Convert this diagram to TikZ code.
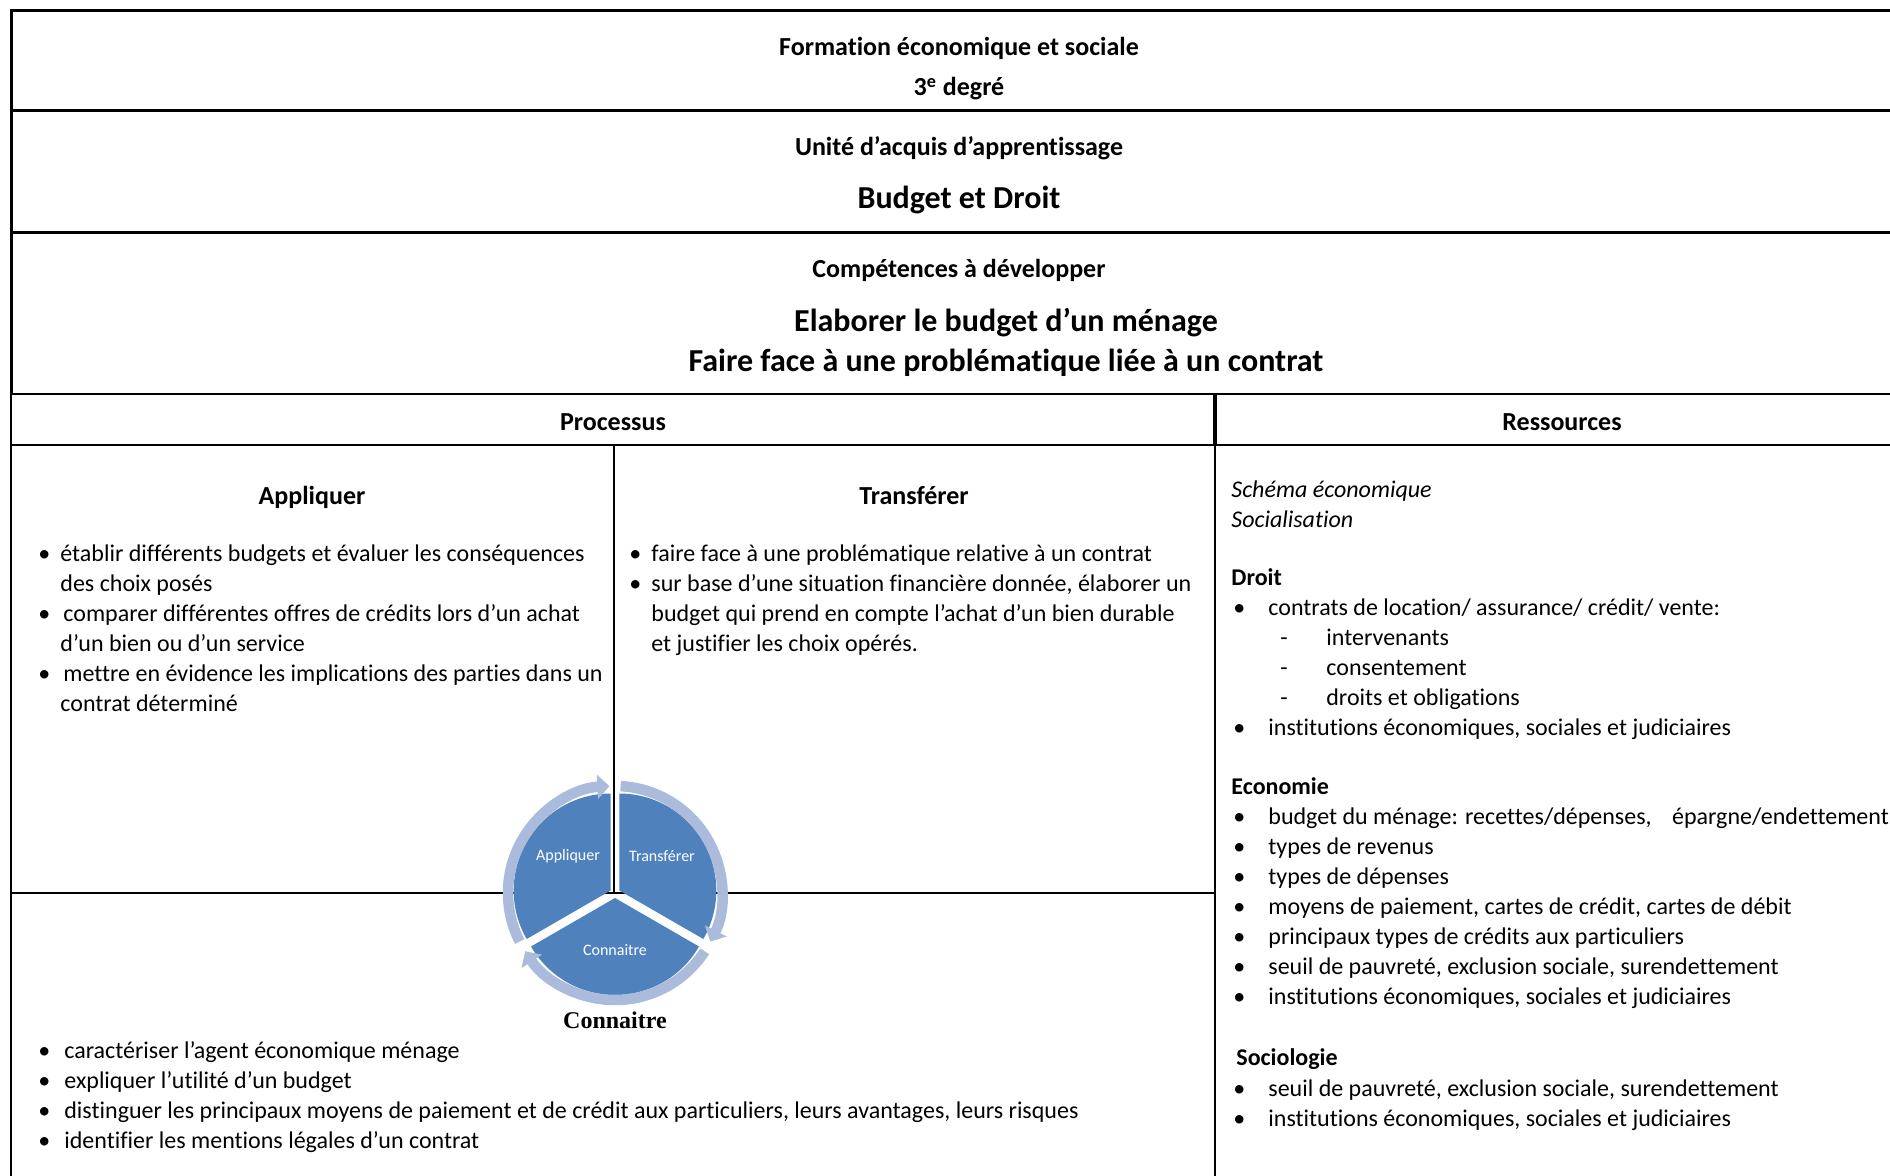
\documentclass[tikz,border=0pt]{standalone}
\usepackage{fontspec}
\setmainfont{Carlito}[Ligatures=CommonOff]
\newfontfamily\timesbf{Liberation Serif}[BoldFont=*,UprightFont=* Bold]
\usetikzlibrary{arrows.meta}

\definecolor{pieblue}{HTML}{4F81BD}
\definecolor{ringblue}{HTML}{AABBDB}

\newcommand{\bul}[1]{\makebox[#1][l]{•}}
\newcommand{\dsh}{\hspace{23.5pt}\makebox[23pt][l]{-}}
\newcommand{\lines}[1]{\begin{tabular}[t]{@{}l@{}}#1\end{tabular}}

\begin{document}
\begin{tikzpicture}[x=0.5pt,y=-0.5pt,
    head/.style={font=\fontsize{13}{16}\selectfont\bfseries, inner sep=0pt, anchor=base},
    big/.style={font=\fontsize{16}{19}\selectfont\bfseries, inner sep=0pt, anchor=base},
    body/.style={font=\fontsize{12}{15}\selectfont, inner sep=0pt, anchor=base west},
    thickrule/.style={line width=1.5pt},
    thinrule/.style={line width=1.1pt},
    sect/.style={fill=pieblue},
    ring/.style={draw=ringblue, line width=5.25pt, -{Triangle[width=12pt,length=6pt]}},
    pielabel/.style={text=white, font=\fontsize{8}{10}\selectfont, inner sep=0pt}]

    \useasboundingbox (0,0) rectangle (1890,1176);

    % table rules
    \draw[thickrule] (1890,11) -- (11,11) -- (11,394);
    \draw[thickrule] (11,111) -- (1890,111);
    \draw[thickrule] (11,233) -- (1890,233);
    \draw[thinrule] (11,394) -- (1890,394);
    \draw[thinrule] (11,445) -- (1890,445);
    \draw[thinrule] (11,394) -- (11,1176);
    \draw[line width=1.8pt] (1215,394) -- (1215,445);
    \draw[thinrule] (1215,445) -- (1215,1176);
    \draw[thinrule] (614,445) -- (614,893);
    \draw[thinrule] (11,893) -- (1215,893);

    % headings
    \node[head] (fes) at (959,56) {Formation économique et sociale};
    \node[head] (deg) at (959,96) {3\textsuperscript{e} degré};
    \node[head] (uaa) at (959,156) {Unité d’acquis d’apprentissage};
    \node[big] (bud) at (959,209) {Budget et Droit};
    \node[head] (comp) at (959,278) {Compétences à développer};
    \node[big] (elab) at (1006,332) {Elaborer le budget d’un ménage};
    \node[big] (face) at (1006,372) {Faire face à une problématique liée à un contrat};
    \node[head] (proc) at (613,431) {Processus};
    \node[head] (res) at (1562,431) {Ressources};

    % Appliquer / Transferer
    \node[head] (app) at (312,504) {Appliquer};
    \node[body] (applist) at (38,561) {\lines{%
        \bul{11pt}établir différents budgets et évaluer les conséquences\\
        \hspace{11pt}des choix posés\\
        \bul{12.5pt}comparer différentes offres de crédits lors d’un achat\\
        \hspace{11pt}d’un bien ou d’un service\\
        \bul{12.5pt}mettre en évidence les implications des parties dans un\\
        \hspace{11pt}contrat déterminé}};
    \node[head] (tra) at (914,504) {Transférer};
    \node[body] (tralist) at (629,561) {\lines{%
        \bul{11pt}faire face à une problématique relative à un contrat\\
        \bul{11pt}sur base d’une situation financière donnée, élaborer un\\
        \hspace{11pt}budget qui prend en compte l’achat d’un bien durable\\
        \hspace{11pt}et justifier les choix opérés.}};

    % Connaitre
    \node[body] (conlist) at (38,1058) {\lines{%
        \bul{13pt}caractériser l’agent économique ménage\\
        \bul{13pt}expliquer l’utilité d’un budget\\
        \bul{13pt}distinguer les principaux moyens de paiement et de crédit aux particuliers, leurs avantages, leurs risques\\
        \bul{13pt}identifier les mentions légales d’un contrat}};

    % Ressources
    \node[body] (schema) at (1231,497) {\lines{\itshape Schéma économique\\ \itshape Socialisation}};
    \node[body, font=\fontsize{12}{15}\selectfont\bfseries] (droit) at (1231,585) {Droit};
    \node[body] (droitlist) at (1233,615) {\lines{%
        \bul{17.5pt}contrats de location/ assurance/ crédit/ vente:\\
        \dsh intervenants\\
        \dsh consentement\\
        \dsh droits et obligations\\
        \bul{17.5pt}institutions économiques, sociales et judiciaires}};
    \node[body, font=\fontsize{12}{15}\selectfont\bfseries] (eco) at (1231,794) {Economie};
    \node[body] (ecolist) at (1233,824) {\lines{%
        \bul{17.5pt}budget du ménage: recettes/dépenses,\hspace{7.5pt} épargne/endettement\\
        \bul{17.5pt}types de revenus\\
        \bul{17.5pt}types de dépenses\\
        \bul{17.5pt}moyens de paiement, cartes de crédit, cartes de débit\\
        \bul{17.5pt}principaux types de crédits aux particuliers\\
        \bul{17.5pt}seuil de pauvreté, exclusion sociale, surendettement\\
        \bul{17.5pt}institutions économiques, sociales et judiciaires}};
    \node[body, font=\fontsize{12}{15}\selectfont\bfseries] (soc) at (1236,1065) {Sociologie};
    \node[body] (soclist) at (1233,1096) {\lines{%
        \bul{17.5pt}seuil de pauvreté, exclusion sociale, surendettement\\
        \bul{17.5pt}institutions économiques, sociales et judiciaires}};

    % cycle
    \begin{scope}[shift={(615,893)}]
        \fill[sect] (150:2.5pt) -- +(90:48.5pt) arc[start angle=90, end angle=210, radius=48.5pt] -- cycle;
        \fill[sect] (30:2.5pt) -- +(90:48.5pt) arc[start angle=90, end angle=-30, radius=48.5pt] -- cycle;
        \fill[sect] (270:2.5pt) -- +(-30:48.5pt) arc[start angle=-30, end angle=-150, radius=48.5pt] -- cycle;
        \draw[ring] (207:53.5pt) arc[start angle=207, end angle=93, radius=53.5pt];
        \draw[ring] (87:53.5pt) arc[start angle=87, end angle=-27, radius=53.5pt];
        \draw[ring] (-33:53.5pt) arc[start angle=-33, end angle=-147, radius=53.5pt];
        \node[pielabel] (papp) at (-47,-37) {Appliquer};
        \node[pielabel] (ptra) at (47,-37) {Transférer};
        \node[pielabel] (pcon) at (0,57) {Connaitre};
    \end{scope}
    \node[font=\timesbf\fontsize{12}{14}\selectfont] (con) at (615,1020) {Connaitre};
\end{tikzpicture}
\end{document}
